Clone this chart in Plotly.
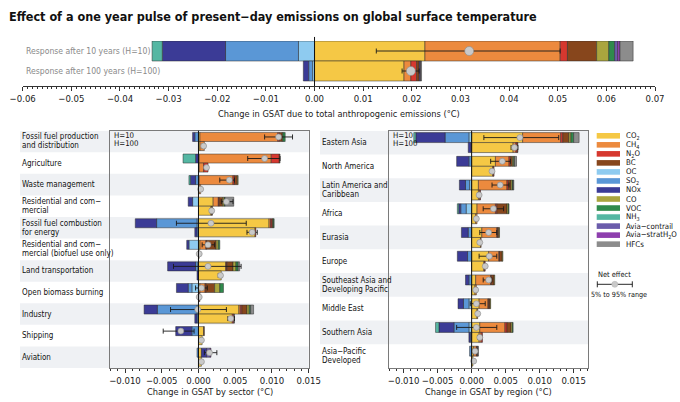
import plotly.graph_objects as go

FONT = "DejaVu Sans Condensed, Liberation Sans Narrow, Liberation Sans, Arial, sans-serif"
W, H = 680, 402

# ---------------- data ----------------
SPECIES = ["CO2", "CH4", "N2O", "BC", "OC", "SO2", "NOx", "CO", "VOC", "NH3",
           "Avia-contrail", "Avia-stratH2O", "HFCs"]
SPECIES_LABELS = ["CO<sub>2</sub>", "CH<sub>4</sub>", "N<sub>2</sub>O", "BC", "OC",
                  "SO<sub>2</sub>", "NOx", "CO", "VOC", "NH<sub>3</sub>",
                  "Avia\u2212contrail", "Avia\u2212stratH<sub>2</sub>O", "HFCs"]
COLORS = ["#f5c845", "#ec8a3e", "#d6382f", "#87461c", "#8ecbf0", "#5a97d6",
          "#3b3b96", "#aaa53e", "#2f8a4c", "#55b7a3", "#6b5cab", "#8e3fae", "#8c8c8c"]

TOTAL_ROWS = ["Response after 10 years (H=10)", "Response after 100 years (H=100)"]
# [H=10, H=100]
TOTAL = {
    "CO2": [0.0227, 0.0184], "CH4": [0.0278, 0.0014], "N2O": [0.0015, 0.0012],
    "BC": [0.0060, 0.0005], "OC": [-0.0033, -0.0004], "SO2": [-0.0150, -0.0008],
    "NOx": [-0.0130, -0.0011], "CO": [0.0025, 0.0], "VOC": [0.0012, 0.0],
    "NH3": [-0.0021, 0.0], "Avia-contrail": [0.0006, 0.0002],
    "Avia-stratH2O": [0.0005, 0.0001], "HFCs": [0.0027, 0.0002],
}
TOTAL_NET = [0.0318, 0.0198]
TOTAL_LO = [0.0127, 0.0180]
TOTAL_HI = [0.0505, 0.0215]

SECTORS = [["Fossil fuel production", "and distribution"], ["Agriculture"],
           ["Waste management"], ["Residential and com\u2212", "mercial"],
           ["Fossil fuel combustion", "for energy"],
           ["Residential and com\u2212", "mercial (biofuel use only)"],
           ["Land transportation"], ["Open biomass burning"], ["Industry"],
           ["Shipping"], ["Aviation"]]
SECTOR_H10 = {
    "CO2": [0.0002, 0.0001, 0.0001, 0.0020, 0.0096, 0.0002, 0.0037, 0.0002, 0.0055, 0.0007, 0.0004],
    "CH4": [0.0106, 0.0098, 0.0046, 0.0007, 0.0002, 0.0008, 0.0001, 0.0007, 0.0002, 0.0, 0.0],
    "N2O": [0.0002, 0.0011, 0.0002, 0.0001, 0.0002, 0.0001, 0.0001, 0.0001, 0.0002, 0.0, 0.0],
    "BC": [0.0004, 0.0001, 0.0004, 0.0005, 0.0001, 0.0013, 0.0008, 0.0012, 0.0007, 0.0001, 0.0],
    "OC": [0.0, 0.0, 0.0, -0.0008, -0.0002, -0.0013, -0.0001, -0.0009, -0.0002, 0.0, 0.0],
    "SO2": [-0.0005, 0.0, -0.0004, 0.0, -0.0055, 0.0, -0.0003, -0.0005, -0.0054, -0.0009, -0.0002],
    "NOx": [-0.0003, -0.0004, -0.0007, -0.0006, -0.0029, -0.0003, -0.0038, -0.0016, -0.0018, -0.0022, 0.0007],
    "CO": [0.0001, 0.0, 0.0001, 0.0002, 0.0001, 0.0003, 0.0004, 0.0007, 0.0003, 0.0, 0.0],
    "VOC": [0.0003, 0.0, 0.0, 0.0001, 0.0001, 0.0002, 0.0003, 0.0005, 0.0002, 0.0, 0.0],
    "NH3": [0.0, -0.0017, -0.0002, 0.0, 0.0, 0.0, 0.0, 0.0, 0.0, 0.0, 0.0],
    "Avia-contrail": [0.0, 0.0, 0.0, 0.0, 0.0, 0.0, 0.0, 0.0, 0.0, 0.0, 0.0005],
    "Avia-stratH2O": [0.0, 0.0, 0.0, 0.0, 0.0, 0.0, 0.0, 0.0, 0.0, 0.0, 0.0001],
    "HFCs": [0.0, 0.0, 0.0, 0.0012, 0.0, 0.0, 0.0002, 0.0, 0.0004, 0.0, 0.0],
}
SECTOR_NET_H10 = [0.0109, 0.0090, 0.0042, 0.0038, 0.0017, 0.0013, 0.0013, 0.0004, -0.0001, -0.0024, 0.0015]
SECTOR_LO_H10 = [0.0090, 0.0067, 0.0029, 0.0031, -0.0030, 0.0005, -0.0034, -0.0004, -0.0038, -0.0048, 0.0008]
SECTOR_HI_H10 = [0.0128, 0.0111, 0.0049, 0.0047, 0.0065, 0.0022, 0.0058, 0.0012, 0.0038, -0.0006, 0.0025]
SECTOR_H100 = {
    "CO2": [0.0002, 0.0001, 0.0001, 0.0017, 0.0077, 0.0001, 0.0031, 0.0001, 0.0046, 0.0005, 0.0004],
    "CH4": [0.0006, 0.0006, 0.0002, 0.0001, 0.0, 0.0, 0.0, 0.0, 0.0, 0.0, 0.0],
    "N2O": [0.0, 0.0006, 0.0, 0.0, 0.0001, 0.0, 0.0, 0.0001, 0.0002, 0.0, 0.0],
    "BC": [0.0, 0.0, 0.0, 0.0001, 0.0, 0.0, 0.0, 0.0, 0.0, 0.0, 0.0],
    "SO2": [0.0, 0.0, 0.0, 0.0, -0.0002, 0.0, 0.0, 0.0, -0.0002, 0.0, 0.0],
    "NOx": [0.0, 0.0, 0.0, 0.0, -0.0003, 0.0, -0.0002, 0.0, -0.0003, 0.0, 0.0],
    "HFCs": [0.0, 0.0, 0.0, 0.0, 0.0, 0.0, 0.0, 0.0, 0.0001, 0.0, 0.0],
}
SECTOR_NET_H100 = [0.0007, 0.0011, 0.0003, 0.0018, 0.0073, 0.0001, 0.0030, 0.0001, 0.0044, 0.0004, 0.0004]
SECTOR_LO_H100 = [0.0005, 0.0009, 0.0002, 0.0016, 0.0066, 0.0000, 0.0027, 0.0000, 0.0040, 0.0003, 0.0003]
SECTOR_HI_H100 = [0.0009, 0.0013, 0.0004, 0.0020, 0.0080, 0.0002, 0.0032, 0.0002, 0.0049, 0.0005, 0.0005]

REGIONS = [["Eastern Asia"], ["North America"], ["Latin America and", "Caribbean"],
           ["Africa"], ["Eurasia"], ["Europe"],
           ["Southeast Asia and", "Developing Pacific"], ["Middle East"],
           ["Southern Asia"], ["Asia\u2212Pacific", "Developed"]]
REGION_H10 = {
    "CO2": [0.0075, 0.0035, 0.0010, 0.0008, 0.0015, 0.0025, 0.0006, 0.0011, 0.0012, 0.0003],
    "CH4": [0.0056, 0.0020, 0.0042, 0.0027, 0.0022, 0.0015, 0.0022, 0.0013, 0.0037, 0.0004],
    "N2O": [0.0003, 0.0002, 0.0002, 0.0002, 0.0001, 0.0001, 0.0001, 0.0001, 0.0003, 0.0001],
    "BC": [0.0009, 0.0003, 0.0004, 0.0015, 0.0002, 0.0004, 0.0004, 0.0002, 0.0006, 0.0001],
    "OC": [-0.0004, 0.0, -0.0003, -0.0008, 0.0, 0.0, 0.0, -0.0004, -0.0004, 0.0],
    "SO2": [-0.0035, -0.0004, -0.0006, -0.0008, -0.0005, -0.0006, -0.0004, -0.0008, -0.0022, -0.0003],
    "NOx": [-0.0043, -0.0018, -0.0009, -0.0003, -0.0010, -0.0015, -0.0005, -0.0008, -0.0022, 0.0],
    "CO": [0.0003, 0.0002, 0.0002, 0.0002, 0.0001, 0.0001, 0.0001, 0.0001, 0.0002, 0.0],
    "VOC": [0.0004, 0.0001, 0.0001, 0.0001, 0.0, 0.0, 0.0, 0.0, 0.0001, 0.0],
    "NH3": [-0.0003, 0.0, 0.0, -0.0002, 0.0, 0.0, 0.0, 0.0, -0.0005, 0.0],
    "HFCs": [0.0008, 0.0003, 0.0001, 0.0, 0.0, 0.0, 0.0, 0.0, 0.0, 0.0001],
}
REGION_NET_H10 = [0.0071, 0.0045, 0.0042, 0.0032, 0.0025, 0.0026, 0.0025, 0.0007, 0.0007, 0.0005]
REGION_LO_H10 = [0.0018, 0.0028, 0.0030, 0.0017, 0.0012, 0.0011, 0.0017, -0.0002, -0.0022, 0.0002]
REGION_HI_H10 = [0.0128, 0.0057, 0.0055, 0.0047, 0.0037, 0.0037, 0.0030, 0.0020, 0.0037, 0.0008]
REGION_H100 = {
    "CO2": [0.0061, 0.0031, 0.0010, 0.0006, 0.0013, 0.0018, 0.0005, 0.0008, 0.0011, 0.0002],
    "CH4": [0.0004, 0.0001, 0.0002, 0.0002, 0.0001, 0.0001, 0.0002, 0.0001, 0.0003, 0.0],
    "N2O": [0.0002, 0.0001, 0.0001, 0.0, 0.0, 0.0001, 0.0, 0.0, 0.0002, 0.0],
    "BC": [0.0001, 0.0, 0.0, 0.0, 0.0, 0.0, 0.0, 0.0, 0.0, 0.0],
    "SO2": [-0.0001, 0.0, 0.0, 0.0, 0.0, 0.0, 0.0, 0.0, -0.0002, 0.0],
    "NOx": [-0.0004, 0.0, 0.0, 0.0, 0.0, 0.0, 0.0, 0.0, -0.0002, 0.0],
}
REGION_NET_H100 = [0.0063, 0.0030, 0.0011, 0.0007, 0.0012, 0.0020, 0.0006, 0.0009, 0.0012, 0.0003]
REGION_LO_H100 = [0.0058, 0.0028, 0.0009, 0.0005, 0.0010, 0.0018, 0.0005, 0.0007, 0.0009, 0.0002]
REGION_HI_H100 = [0.0068, 0.0032, 0.0013, 0.0009, 0.0014, 0.0022, 0.0008, 0.0011, 0.0015, 0.0004]


# ---------------- helpers ----------------
def px(xp):
    return xp / W


def py(yp):
    return 1 - yp / H


fig = go.Figure()


def add_bars(d10, d100, n, xa, ya, pos10, pos100, width):
    for s, c in zip(SPECIES, COLORS):
        v = list(d10.get(s, [0.0] * n)) + list(d100.get(s, [0.0] * n))
        v = [None if a == 0 else a for a in v]
        fig.add_trace(go.Bar(
            x=v, y=pos10 + pos100, orientation="h", width=width,
            marker=dict(color=c, line=dict(color="#2a2a2a", width=0.5)),
            xaxis=xa, yaxis=ya, showlegend=False, hoverinfo="skip"))


def add_net(net, lo, hi, pos, xa, ya, size):
    fig.add_trace(go.Scatter(
        x=net, y=pos, mode="markers", xaxis=xa, yaxis=ya, showlegend=False,
        hoverinfo="skip",
        marker=dict(size=size, color="#c9c9c9", line=dict(color="#8a8a8a", width=0.6)),
        error_x=dict(type="data", symmetric=False,
                     array=[h - m for h, m in zip(hi, net)],
                     arrayminus=[m - l for m, l in zip(net, lo)],
                     color="#1a1a1a", thickness=0.9, width=2.5)))


# top panel
top10 = {k: [v[0]] for k, v in TOTAL.items()}
top100 = {k: [v[1]] for k, v in TOTAL.items()}
add_bars(top10, top100, 1, "x", "y", [1], [0], 1.0)
add_net(TOTAL_NET, TOTAL_LO, TOTAL_HI, [1, 0], "x", "y", 9)

# sector panel
ns = len(SECTORS)
s10 = [-i + 0.21 for i in range(ns)]
s100 = [-i - 0.21 for i in range(ns)]
add_bars(SECTOR_H10, SECTOR_H100, ns, "x2", "y2", s10, s100, 0.42)
add_net(SECTOR_NET_H10 + SECTOR_NET_H100, SECTOR_LO_H10 + SECTOR_LO_H100,
        SECTOR_HI_H10 + SECTOR_HI_H100, s10 + s100, "x2", "y2", 6)

# region panel
nr = len(REGIONS)
r10 = [-i + 0.21 for i in range(nr)]
r100 = [-i - 0.21 for i in range(nr)]
add_bars(REGION_H10, REGION_H100, nr, "x3", "y3", r10, r100, 0.42)
add_net(REGION_NET_H10 + REGION_NET_H100, REGION_LO_H10 + REGION_LO_H100,
        REGION_HI_H10 + REGION_HI_H100, r10 + r100, "x3", "y3", 6)

AX = "#333333"
BOX = "#7a7a7a"
tickfont = dict(family=FONT, size=9.5, color="#1a1a1a")

layout = dict(
    template="none",
    width=W, height=H, margin=dict(l=0, r=0, t=0, b=0, pad=0, autoexpand=False),
    paper_bgcolor="white", plot_bgcolor="rgba(0,0,0,0)",
    barmode="relative", font=dict(family=FONT, size=9, color="#1a1a1a"),
    xaxis=dict(domain=[px(22.7), px(655)], range=[-0.06, 0.07], anchor="y",
               tick0=0, dtick=0.01, tickformat=".2f", ticks="outside", ticklen=4,
               tickcolor=AX, showline=True, linecolor=AX, linewidth=1, tickangle=0,
               showgrid=False, zeroline=False, tickfont=tickfont, automargin=False,
               minor=dict(dtick=0.001, ticks="outside", ticklen=2, tickcolor=AX)),
    yaxis=dict(domain=[py(86), py(41)], range=[-0.75, 1.5], anchor="x",
               visible=False, automargin=False),
    xaxis2=dict(domain=[px(110.3), px(308.7)], range=[-0.012, 0.015], anchor="y2",
                tick0=0, dtick=0.005, tickformat=".3f", ticks="outside", ticklen=4,
                tickcolor=AX, showline=True, mirror=True, linecolor=BOX, linewidth=1,
                showgrid=False, zeroline=False, tickfont=tickfont, tickangle=0,
                automargin=False,
                minor=dict(dtick=0.001, ticks="outside", ticklen=2, tickcolor=AX)),
    yaxis2=dict(domain=[py(368), py(130.7)], range=[-10.5, 0.5], anchor="x2",
                showline=True, mirror=True, linecolor=BOX, linewidth=1, automargin=False,
                showticklabels=False, ticks="", showgrid=False, zeroline=False),
    xaxis3=dict(domain=[px(389.3), px(588.3)], range=[-0.0121, 0.01715], anchor="y3",
                tick0=0, dtick=0.005, tickformat=".3f", ticks="outside", ticklen=4,
                tickcolor=AX, showline=True, mirror=True, linecolor=BOX, linewidth=1,
                showgrid=False, zeroline=False, tickfont=tickfont, tickangle=0,
                automargin=False,
                minor=dict(dtick=0.001, ticks="outside", ticklen=2, tickcolor=AX)),
    yaxis3=dict(domain=[py(368), py(130.7)], range=[-9.5, 0.5], anchor="x3",
                showline=True, mirror=True, linecolor=BOX, linewidth=1, automargin=False,
                showticklabels=False, ticks="", showgrid=False, zeroline=False),
)
fig.update_layout(**layout)

shapes = []
ann = []
BAND = "#eff1f4"

# row shading
for i in range(0, ns, 2):
    shapes.append(dict(type="rect", xref="paper", yref="y2", x0=px(20), x1=px(308.7),
                       y0=-i - 0.5, y1=-i + 0.5, fillcolor=BAND, line=dict(width=0),
                       layer="below"))
for i in range(0, nr, 2):
    shapes.append(dict(type="rect", xref="paper", yref="y3", x0=px(320), x1=px(588.3),
                       y0=-i - 0.5, y1=-i + 0.5, fillcolor=BAND, line=dict(width=0),
                       layer="below"))

# zero lines
shapes.append(dict(type="line", xref="x", yref="y domain", x0=0, x1=0, y0=0, y1=1.09,
                   line=dict(color="#111", width=1), layer="above"))
shapes.append(dict(type="line", xref="x2", yref="y2 domain", x0=0, x1=0, y0=0, y1=1,
                   line=dict(color="#111", width=1), layer="above"))
shapes.append(dict(type="line", xref="x3", yref="y3 domain", x0=0, x1=0, y0=0, y1=1,
                   line=dict(color="#111", width=1), layer="above"))

# title
ann.append(dict(text="<b>Effect of a one year pulse of present\u2212day emissions on global surface temperature</b>",
                xref="paper", yref="paper", x=px(7), y=py(16), xanchor="left", yanchor="middle",
                showarrow=False, font=dict(family=FONT, size=12.5, color="#111")))

# top row labels
for lab, yv in zip(TOTAL_ROWS, [1, 0]):
    ann.append(dict(text=lab, xref="paper", yref="y", x=px(24), y=yv, xanchor="left",
                    yanchor="middle", showarrow=False,
                    font=dict(family=FONT, size=8.6, color="#8a8a8a")))

# axis titles
ann.append(dict(text="Change in GSAT due to total anthropogenic emissions (\u00b0C)",
                xref="paper", yref="paper", x=px(338.6), y=py(113), xanchor="center",
                yanchor="middle", showarrow=False, font=dict(family=FONT, size=9.2)))
ann.append(dict(text="Change in GSAT by sector (\u00b0C)", xref="paper", yref="paper",
                x=px(209.5), y=py(391), xanchor="center", yanchor="middle",
                showarrow=False, font=dict(family=FONT, size=9.2)))
ann.append(dict(text="Change in GSAT by region (\u00b0C)", xref="paper", yref="paper",
                x=px(488.8), y=py(391), xanchor="center", yanchor="middle",
                showarrow=False, font=dict(family=FONT, size=9.2)))

LINE_GAP = 9.0


def row_labels(labels, yref, xp):
    for i, lines in enumerate(labels):
        k = len(lines)
        for j, t in enumerate(lines):
            shift = (k - 1) * LINE_GAP / 2 - j * LINE_GAP
            ann.append(dict(text=t, xref="paper", yref=yref, x=px(xp), y=-i,
                            yshift=shift, xanchor="left", yanchor="middle",
                            showarrow=False, font=dict(family=FONT, size=8.0, color="#111")))


row_labels(SECTORS, "y2", 20)
row_labels(REGIONS, "y3", 320)

# H=10 / H=100 marks
for xp in (112, 391):
    ann.append(dict(text="H=10", xref="paper", yref="paper", x=px(xp), y=py(135.2),
                    xanchor="left", yanchor="middle", showarrow=False,
                    font=dict(family=FONT, size=7.8, color="#111")))
    ann.append(dict(text="H=100", xref="paper", yref="paper", x=px(xp), y=py(144),
                    xanchor="left", yanchor="middle", showarrow=False,
                    font=dict(family=FONT, size=7.8, color="#111")))

# legend
for i, (lab, c) in enumerate(zip(SPECIES_LABELS, COLORS)):
    yc = 135.8 + i * 9.03
    shapes.append(dict(type="rect", xref="paper", yref="paper", x0=px(596.7), x1=px(620),
                       y0=py(yc + 2.8), y1=py(yc - 2.8), fillcolor=c, line=dict(width=0)))
    ann.append(dict(text=lab, xref="paper", yref="paper", x=px(623.5), y=py(yc),
                    xanchor="left", yanchor="middle", showarrow=False,
                    font=dict(family=FONT, size=7.8, color="#111")))

ann.append(dict(text="Net effect", xref="paper", yref="paper", x=px(596), y=py(274),
                xanchor="left", yanchor="middle", showarrow=False,
                font=dict(family=FONT, size=7.4, color="#111")))
shapes.append(dict(type="line", xref="paper", yref="paper", x0=px(597.3), x1=px(632.3),
                   y0=py(284.3), y1=py(284.3), line=dict(color="#111", width=0.9)))
for xp in (597.3, 632.3):
    shapes.append(dict(type="line", xref="paper", yref="paper", x0=px(xp), x1=px(xp),
                       y0=py(281.3), y1=py(287.3), line=dict(color="#111", width=0.9)))
shapes.append(dict(type="circle", xref="paper", yref="paper", x0=px(611.8), x1=px(617.8),
                   y0=py(287.3), y1=py(281.3), fillcolor="#c9c9c9",
                   line=dict(color="#b0b0b0", width=0.5)))
ann.append(dict(text="5% to 95% range", xref="paper", yref="paper", x=px(589), y=py(294.3),
                xanchor="left", yanchor="middle", showarrow=False,
                font=dict(family=FONT, size=7.2, color="#111")))

fig.update_layout(shapes=shapes, annotations=ann)
fig.write_html("out.html", config={"displayModeBar": False},
               post_script="document.body.style.margin='0';document.body.style.overflow='hidden';")
